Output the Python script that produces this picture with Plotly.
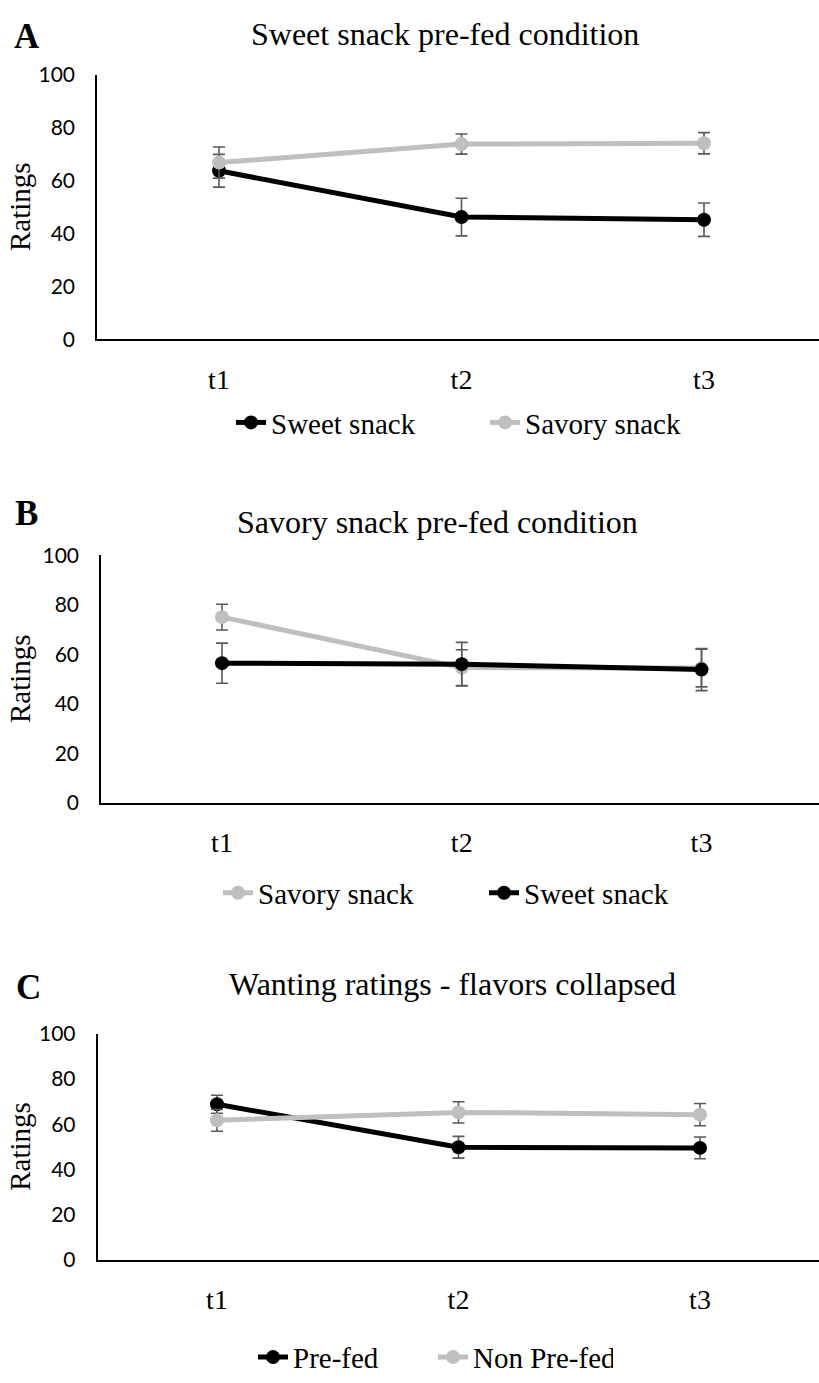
import plotly.graph_objects as go

# ---- data -------------------------------------------------------------
time_points = ["t1", "t2", "t3"]

# A: sweet snack pre-fed condition
a_sweet = [63.7, 46.2, 45.2]
a_sweet_err = [6.2, 7.1, 6.3]
a_savory = [66.8, 73.8, 74.1]
a_savory_err = [5.9, 3.8, 4.0]

# B: savory snack pre-fed condition
b_savory = [75.0, 54.6, 54.4]
b_savory_err = [5.2, 7.2, 7.6]
b_sweet = [56.4, 56.0, 53.8]
b_sweet_err = [8.1, 8.8, 8.5]

# C: wanting ratings, flavors collapsed
c_prefed = [68.8, 49.8, 49.5]
c_prefed_err = [4.0, 4.8, 4.8]
c_nonprefed = [61.7, 65.2, 64.2]
c_nonprefed_err = [4.8, 4.7, 4.9]

y_ticks = [0, 20, 40, 60, 80, 100]

# ---- styling ----------------------------------------------------------
W, H = 819, 1383
BLACK = "#000000"
GREY = "#BFBFBF"
ERR = "#5A5A5A"
SERIF = "Liberation Serif, Times New Roman, serif"
SANS = "Lato, Liberation Sans, sans-serif"


def px_x(v):
    return v / W


def px_y(v):
    return 1 - v / H


# pixel geometry of each panel: left edge, zero line, top line, first/last category centres
panels = [
    dict(left=97, bottom=332, top=62, c0=219, c2=704),
    dict(left=101, bottom=805, top=552.5, c0=222, c2=701.5),
    dict(left=97.5, bottom=1271.7, top=1040.7, c0=217, c2=700),
]

fig = go.Figure()


def add_series(idx, name, values, errors, color, legend):
    ax = "" if idx == 1 else str(idx)
    fig.add_trace(go.Scatter(
        x=time_points, y=values, name=name,
        mode="lines+markers",
        line=dict(color=color, width=5),
        marker=dict(color=color, size=14, line=dict(width=0)),
        error_y=dict(type="data", array=errors, visible=True,
                     color=ERR, thickness=1.6, width=6),
        xaxis="x" + ax, yaxis="y" + ax, legend=legend,
    ))


add_series(1, "Sweet snack", a_sweet, a_sweet_err, BLACK, "legend")
add_series(1, "Savory snack", a_savory, a_savory_err, GREY, "legend")
add_series(2, "Savory snack", b_savory, b_savory_err, GREY, "legend2")
add_series(2, "Sweet snack", b_sweet, b_sweet_err, BLACK, "legend2")
add_series(3, "Pre-fed", c_prefed, c_prefed_err, BLACK, "legend3")
add_series(3, "Non Pre-fed", c_nonprefed, c_nonprefed_err, GREY, "legend3")

layout = dict(
    width=W, height=H, autosize=False,
    margin=dict(l=0, r=0, t=0, b=0),
    paper_bgcolor="white", plot_bgcolor="white",
    font=dict(family=SERIF, color=BLACK),
)

for i, p in enumerate(panels, start=1):
    sfx = "" if i == 1 else str(i)
    step = (p["c2"] - p["c0"]) / 2
    r0 = -(p["c0"] - p["left"]) / step
    r1 = r0 + (W - p["left"]) / step
    layout["xaxis" + sfx] = dict(
        domain=[px_x(p["left"]), 1], anchor="y" + sfx,
        type="category", range=[r0, r1],
        showline=True, linecolor=BLACK, linewidth=1.5,
        showgrid=False, zeroline=False, ticks="",
        ticklabelstandoff=14,
        tickfont=dict(family=SERIF, size=28, color=BLACK),
        fixedrange=True,
    )
    layout["yaxis" + sfx] = dict(
        domain=[px_y(p["bottom"]), px_y(p["top"])], anchor="x" + sfx,
        range=[0, 100], tickvals=y_ticks,
        showline=True, linecolor=BLACK, linewidth=1.5,
        showgrid=False, zeroline=False, ticks="",
        ticklabelstandoff=16,
        tickfont=dict(family=SANS, size=21, color=BLACK),
        fixedrange=True,
    )

# legend: left edge, vertical centre, entry width
legend_pos = [
    ("legend", 231, 417, 209),
    ("legend2", 218, 897, 221),
    ("legend3", 253, 1371, 135),
]
for key, lx, cy, ew in legend_pos:
    layout[key] = dict(
        orientation="h", x=px_x(lx), xanchor="left",
        y=px_y(cy), yanchor="middle",
        entrywidth=ew, entrywidthmode="pixels",
        bgcolor="rgba(0,0,0,0)",
        font=dict(family=SERIF, size=29, color=BLACK),
    )

fig.update_layout(**layout)

# panel titles, panel letters and y-axis titles
titles = [
    ("Sweet snack pre-fed condition", 445, 20),
    ("Savory snack pre-fed condition", 437, 518),
    ("Wanting ratings - flavors collapsed", 452, 990),
]
letters = [("A", 27, 23), ("B", 26, 510), ("C", 28.5, 994)]

for text, cx, cy in titles:
    fig.add_annotation(text=text, xref="paper", yref="paper",
                       x=px_x(cx), y=px_y(cy), xanchor="center", yanchor="middle",
                       showarrow=False, font=dict(family=SERIF, size=32, color=BLACK))

for text, cx, cy in letters:
    fig.add_annotation(text="<b>" + text + "</b>", xref="paper", yref="paper",
                       x=px_x(cx), y=px_y(cy), xanchor="center", yanchor="middle",
                       showarrow=False, font=dict(family=SERIF, size=35, color=BLACK))

for p in panels:
    fig.add_annotation(text="Ratings", xref="paper", yref="paper",
                       x=px_x(20), y=px_y((p["top"] + p["bottom"]) / 2),
                       xanchor="center", yanchor="middle", textangle=-90,
                       showarrow=False, font=dict(family=SERIF, size=29, color=BLACK))

fig.write_html("out.html")
